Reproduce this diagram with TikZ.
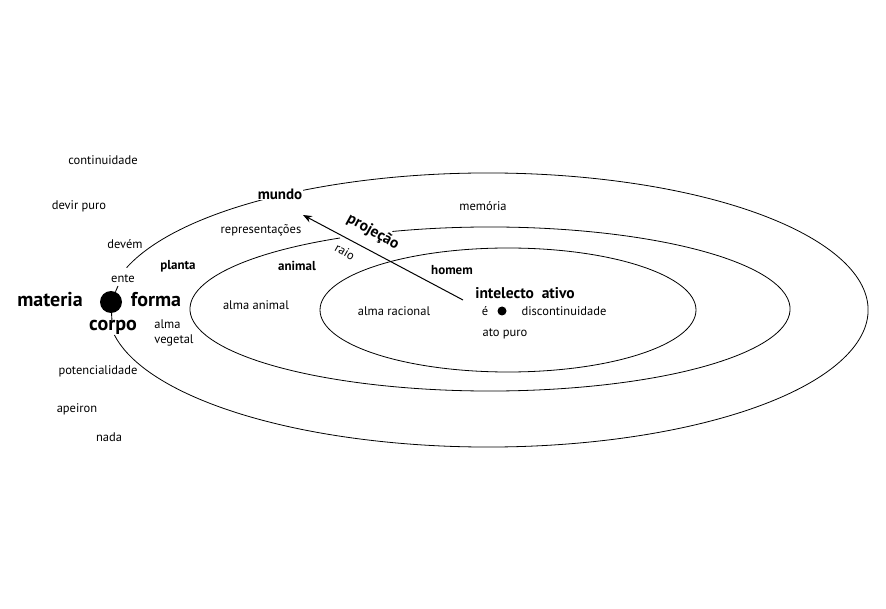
\documentclass[tikz,border=0pt]{standalone}
\usepackage{fontspec}
\setmainfont{PT Sans}
\usetikzlibrary{arrows.meta}
\tikzset{
  almaorbit/.style={line width=0.8pt},
  almaraio/.style={-{Stealth[length=9pt,width=7pt]},line width=1pt},
  almatext/.style={inner sep=1pt,font=\fontsize{12.5}{15}\selectfont},
  almabold/.style={inner sep=1pt,font=\fontsize{13}{15}\selectfont\bfseries},
  almamid/.style={inner sep=1pt,font=\fontsize{15.5}{17}\selectfont\bfseries},
  almabig/.style={inner sep=1pt,font=\fontsize{20}{22}\selectfont\bfseries},
  almaponto/.style={circle,fill=black,inner sep=0pt}
}
\begin{document}
\begin{tikzpicture}[x=1pt,y=-1pt]
  \useasboundingbox (0,0) rectangle (886,609);
  % orbitas
  \draw[almaorbit] (488,310) ++(-162:380 and 137)
    arc[start angle=-162,end angle=169.5,x radius=380,y radius=137];
  \draw[almaorbit] (490,309) ++(-109:300 and 82)
    arc[start angle=-109,end angle=240,x radius=300,y radius=82];
  \draw[almaorbit] (508,310) ellipse [x radius=188,y radius=62];
  % ente
  \node[almaponto,minimum size=22pt] (ponto) at (111,302) {};
  \coordinate (entepe) at (118,286);
  \coordinate (corpope) at (112,322);
  \draw[line width=0.9pt] (ponto) -- (entepe);
  \draw[line width=0.9pt] (ponto) -- (corpope);
  \node[almaponto,minimum size=9pt] (centro) at (502,311) {};
  % raio
  \coordinate (raioorigem) at (463,300);
  \coordinate (raiofim) at (303,215);
  \draw[almaraio] (raioorigem) -- (raiofim);
  % textos
  \node[almatext] (continuidade) at (103,160) {continuidade};
  \node[almatext] (devirpuro) at (79,206) {devir puro};
  \node[almatext] (devem) at (125,244) {devém};
  \node[almatext] (ente) at (123,279) {ente};
  \node[almabold] (planta) at (178,266) {planta};
  \node[almabig] (materia) at (50,300) {materia};
  \node[almabig] (forma) at (156,300) {forma};
  \node[almabig] (corpo) at (113,327) {corpo};
  \node[almatext,align=left] (almaveg) at (174,333) {alma\\vegetal};
  \node[almatext] (potencia) at (98,371) {potencialidade};
  \node[almatext] (apeiron) at (77,409) {apeiron};
  \node[almatext] (nada) at (109,437) {nada};
  \node[almabold,font=\fontsize{15}{17}\selectfont\bfseries,fill=white] (mundo) at (280,194) {mundo};
  \node[almatext] (repres) at (261,230) {representações};
  \node[almamid,rotate=-29] (projecao) at (373,232) {projeção};
  \node[almatext,rotate=-30] (raio) at (345,252) {raio};
  \node[almatext] (memoria) at (483,206) {memória};
  \node[almabold] (animal) at (297,266) {animal};
  \node[almatext] (almaanimal) at (256,305) {alma animal};
  \node[almabold] (homem) at (452,270) {homem};
  \node[almamid] (intelecto) at (525,293) {intelecto\ \ ativo};
  \node[almatext] (almarac) at (394,311) {alma racional};
  \node[almatext] (e) at (485,311) {é};
  \node[almatext] (discont) at (564,311) {discontinuidade};
  \node[almatext] (atopuro) at (505,334) {ato puro};
\end{tikzpicture}
\end{document}
